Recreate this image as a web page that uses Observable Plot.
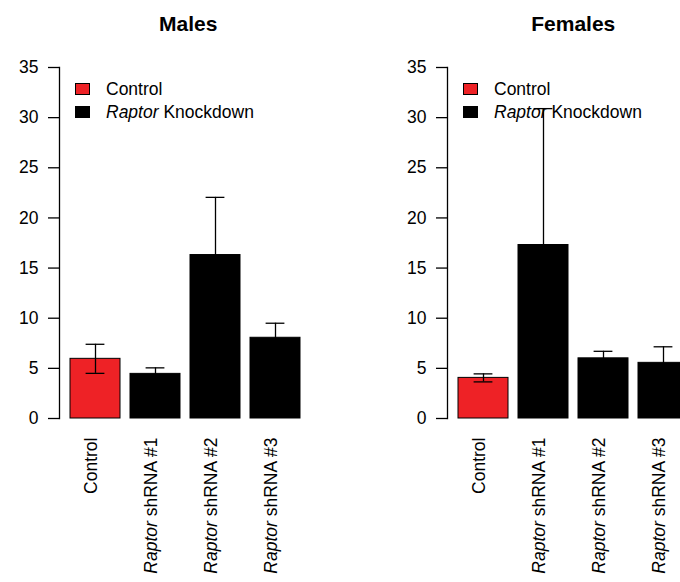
<!DOCTYPE html>
<html><head><meta charset="utf-8">
<script src="https://cdn.jsdelivr.net/npm/d3@7"></script>
<script src="https://cdn.jsdelivr.net/npm/@observablehq/plot@0.6"></script>
<style>
body{margin:0;background:#fff;}
#wrap{position:relative;width:680px;height:582px;overflow:hidden;font-family:"Liberation Sans",Arial,sans-serif;color:#000;}
.panel{position:absolute;top:0;width:390px;height:582px;}
.panel svg{max-width:none !important;}
.leg{position:absolute;font-size:17.5px;line-height:17px;white-space:nowrap;}
.box{position:absolute;width:13px;height:10px;border:1px solid #000;}
</style></head><body><div id="wrap"></div>
<script>
const categories = ["Control","Raptor shRNA #1","Raptor shRNA #2","Raptor shRNA #3"];
const groups = ["Control","Raptor Knockdown","Raptor Knockdown","Raptor Knockdown"];
const panelTitles = ["Males","Females"];
const malesMean = [5.95, 4.45, 16.3, 8.05];
const malesSE = [1.45, 0.6, 5.75, 1.45];
const femalesMean = [4.05, 17.3, 6.0, 5.55];
const femalesSE = [0.4, 13.6, 0.7, 1.6];
const yTicks = [0, 5, 10, 15, 20, 25, 30, 35];
const legendLabels = ["Control", "Raptor Knockdown"];
const legendColors = ["#ee2226", "#000000"];

const FONT = "Liberation Sans, Arial, sans-serif";
const wrap = document.getElementById("wrap");

function italicize(svg) {
  svg.querySelectorAll('g[aria-label="x-axis tick label"] text').forEach(t => {
    const s = t.textContent;
    if (s.startsWith("Raptor ")) {
      t.textContent = "";
      const a = document.createElementNS("http://www.w3.org/2000/svg", "tspan");
      a.setAttribute("font-style", "italic");
      a.textContent = "Raptor";
      const b = document.createElementNS("http://www.w3.org/2000/svg", "tspan");
      b.setAttribute("style", "white-space:pre");
      b.textContent = s.slice(6);
      t.appendChild(a); t.appendChild(b);
    }
  });
}

function panel(title, means, ses, left, titleDx) {
  const data = categories.map((c, i) => ({cat: c, group: groups[i], mean: means[i], se: ses[i]}));
  const p = Plot.plot({
    width: 390, height: 582,
    marginLeft: 59, marginRight: 79.5, marginTop: 67, marginBottom: 164,
    style: {fontFamily: FONT, fontSize: "17.5px", background: "transparent", color: "#000", maxWidth: "none"},
    x: {domain: categories, paddingInner: 1/6, paddingOuter: 0.153, label: null, axis: null},
    y: {domain: [0, 35], label: null, axis: null},
    color: {domain: legendLabels, range: legendColors},
    marks: [
      Plot.barY(data, {x: "cat", y: "mean", fill: "group", stroke: "#000", strokeWidth: 1}),
      Plot.ruleX(data, {x: "cat", y1: d => d.mean - d.se, y2: d => d.mean + d.se, stroke: "#000", strokeWidth: 1.3}),
      Plot.tickY(data, {x: "cat", y: d => d.mean + d.se, insetLeft: 15.6, insetRight: 15.6, stroke: "#000", strokeWidth: 1.3}),
      Plot.tickY(data, {x: "cat", y: d => d.mean - d.se, insetLeft: 15.6, insetRight: 15.6, stroke: "#000", strokeWidth: 1.3}),
      Plot.axisY({ticks: yTicks, tickSize: 11, tickPadding: 10, fontSize: 17.5, label: null, strokeWidth: 1.3}),
      Plot.frame({anchor: "left", strokeWidth: 1.3}),
      Plot.axisX({tickSize: 0, tickPadding: 19, tickRotate: -90, dx: -4, fontSize: 17.5, label: null}),
      Plot.text([title], {frameAnchor: "top", dy: -37, dx: titleDx, lineAnchor: "bottom", fontWeight: "bold", fontSize: 21})
    ]
  });
  italicize(p);
  const div = document.createElement("div");
  div.className = "panel";
  div.style.left = left + "px";
  div.appendChild(p);
  wrap.appendChild(div);

  // legend (top-left inside plot area)
  legendLabels.forEach((lab, i) => {
    const box = document.createElement("div");
    box.className = "box";
    box.style.background = legendColors[i];
    box.style.left = (left + 75) + "px";
    box.style.top = (83 + i * 23) + "px";
    wrap.appendChild(box);
    const tx = document.createElement("div");
    tx.className = "leg";
    tx.style.left = (left + 106) + "px";
    tx.style.top = (80.5 + i * 23) + "px";
    if (lab.startsWith("Raptor ")) {
      tx.innerHTML = "<i>Raptor</i>" + lab.slice(6);
    } else tx.textContent = lab;
    wrap.appendChild(tx);
  });
}

panel(panelTitles[0], malesMean, malesSE, 0, 3);
panel(panelTitles[1], femalesMean, femalesSE, 388, 0);
</script></body></html>
